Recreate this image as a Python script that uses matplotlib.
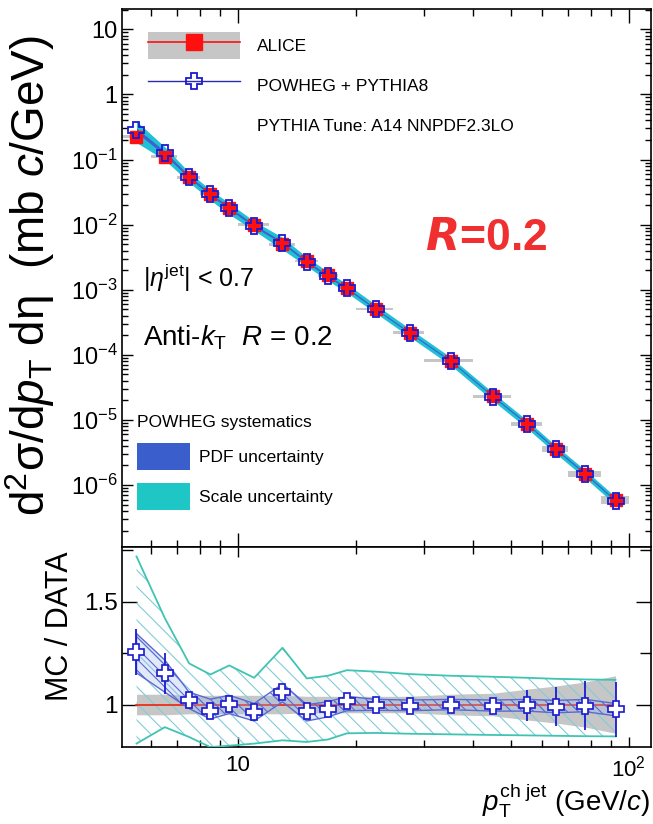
import numpy as np
import matplotlib
matplotlib.use('Agg')
import matplotlib.pyplot as plt
from matplotlib.patches import Patch
from matplotlib.lines import Line2D
from matplotlib.ticker import FixedLocator, LogLocator, MultipleLocator, NullFormatter, FuncFormatter

plt.rcParams['font.family'] = ['Liberation Sans', 'DejaVu Sans']
plt.rcParams['mathtext.fontset'] = 'custom'
plt.rcParams['mathtext.rm'] = 'Liberation Sans'
plt.rcParams['mathtext.it'] = 'Liberation Sans:italic'
plt.rcParams['mathtext.bf'] = 'Liberation Sans:bold'
plt.rcParams['hatch.linewidth'] = 0.8

# bins in pT (GeV/c)
pt_lo = np.array([5, 6, 7, 8, 9, 10, 12, 14, 16, 18, 20, 25, 30, 40, 50, 60, 70, 85])
pt_hi = np.array([6, 7, 8, 9, 10, 12, 14, 16, 18, 20, 25, 30, 40, 50, 60, 70, 85, 100])
pt = np.array([5.5, 6.5, 7.5, 8.5, 9.5, 11, 13, 15, 17, 19, 22.5, 27.5, 35, 45, 55, 65, 77.5, 92.5])

# ALICE cross section (mb c/GeV) and relative systematic uncertainty
alice_y = np.array([0.225, 0.11, 0.053, 0.030, 0.018, 0.010, 5.0e-3, 2.8e-3, 1.66e-3, 1.05e-3,
                    5.1e-4, 2.2e-4, 8.1e-5, 2.3e-5, 8.7e-6, 3.6e-6, 1.5e-6, 5.9e-7])
alice_sys = np.array([0.05, 0.05, 0.045, 0.045, 0.045, 0.045, 0.045, 0.04, 0.04, 0.04,
                      0.04, 0.04, 0.05, 0.055, 0.075, 0.09, 0.11, 0.14])

# POWHEG / DATA
ratio = np.array([1.256, 1.151, 1.021, 0.969, 1.005, 0.964, 1.061, 0.969, 0.976, 1.016,
                  0.997, 0.995, 1.0, 0.995, 0.997, 0.99, 0.995, 0.976])
mc_stat = np.array([0.11, 0.10, 0.02, 0.02, 0.02, 0.02, 0.02, 0.015, 0.015, 0.015,
                    0.015, 0.015, 0.02, 0.035, 0.075, 0.095, 0.12, 0.135])
pdf_hi = np.array([1.345, 1.216, 1.06, 1.026, 1.045, 1.005, 1.10, 1.0, 1.013, 1.04,
                   1.025, 1.022, 1.025, 1.022, 1.025, 1.02, 1.025, 1.005])
pdf_lo = np.array([1.154, 1.06, 0.98, 0.93, 0.956, 0.92, 1.013, 0.92, 0.94, 0.97,
                   0.972, 0.97, 0.975, 0.968, 0.968, 0.96, 0.965, 0.945])
scale_hi = np.array([1.72, 1.42, 1.20, 1.146, 1.19, 1.13, 1.276, 1.127, 1.14, 1.167,
                     1.16, 1.148, 1.14, 1.135, 1.13, 1.125, 1.122, 1.12])
scale_lo = np.array([0.81, 0.89, 0.842, 0.793, 0.80, 0.81, 0.826, 0.818, 0.83, 0.86,
                     0.862, 0.858, 0.855, 0.852, 0.85, 0.848, 0.846, 0.845])

W, H = 653, 824
fig = plt.figure(figsize=(W / 100, H / 100), dpi=100)
ax = fig.add_axes([122 / W, 1 - 547 / H, 529 / W, 538 / H])
axr = fig.add_axes([122 / W, 1 - 747 / H, 529 / W, 200 / H])

gray = '#c6c6c6'
blue_mk = '#1a1ad0'

# ---- main panel
ax.set_xscale('log')
ax.set_yscale('log')
ax.bar(pt_lo, 2 * alice_sys * alice_y, width=pt_hi - pt_lo, bottom=alice_y * (1 - alice_sys),
       align='edge', color=gray, lw=0, zorder=1)
ax.fill_between(pt, alice_y * scale_lo, alice_y * scale_hi, color='#22c0d6', lw=0, zorder=2)
ax.fill_between(pt, alice_y * pdf_lo, alice_y * pdf_hi, color='#3a64cc', lw=0, zorder=3)
ax.plot(pt, alice_y, 's', color='#ff1010', ms=9, zorder=4)
ax.plot(pt, alice_y * ratio, 'P', mfc='none', mec=blue_mk, ms=12, mew=1.3, zorder=5)

ax.set_xlim(5.05, 114)
ax.set_ylim(1.12e-7, 20.5)

# ---- ratio panel
axr.set_xscale('log')
axr.fill_between(pt, 1 - alice_sys, 1 + alice_sys, color=gray, lw=0, zorder=1)
axr.fill_between(pt, scale_lo, scale_hi, facecolor='none', edgecolor='#80ccd8',
                 hatch='\\\\', lw=0, zorder=2)
axr.plot(pt, scale_hi, color='#3fc4b4', lw=1.3, zorder=3)
axr.plot(pt, scale_lo, color='#3fc4b4', lw=1.3, zorder=3)
axr.plot(pt, alice_y / alice_y, color='#e8301c', lw=1.3, zorder=3)
axr.fill_between(pt, pdf_lo, pdf_hi, facecolor=(0.62, 0.72, 0.95, 0.3), edgecolor='#5a6ad0',
                 hatch='\\\\\\', lw=1.0, zorder=4)
axr.errorbar(pt, ratio, yerr=mc_stat, fmt='P', mfc='white', mec=blue_mk, ms=12, mew=1.2,
             ecolor=blue_mk, elinewidth=1.3, capsize=0, zorder=5)
axr.set_xlim(5.05, 114)
axr.set_ylim(0.7935, 1.766)

# ---- ticks
for a in (ax, axr):
    a.tick_params(which='both', direction='in', top=True, right=True, width=1.0)
    for s in a.spines.values():
        s.set_linewidth(1.2)
    a.xaxis.set_major_locator(FixedLocator([10, 100]))
    a.xaxis.set_minor_locator(LogLocator(base=10, subs=np.arange(2, 10), numticks=20))
    a.xaxis.set_minor_formatter(NullFormatter())

ax.xaxis.set_major_formatter(NullFormatter())
ax.tick_params(axis='x', which='major', length=10)
ax.tick_params(axis='x', which='minor', length=5)
ax.tick_params(axis='y', which='major', length=8, labelsize=17, pad=3)
ax.tick_params(axis='y', which='minor', length=4)
ax.yaxis.set_major_locator(FixedLocator([1e-6, 1e-5, 1e-4, 1e-3, 1e-2, 1e-1, 1, 10]))
ax.yaxis.set_minor_locator(LogLocator(base=10, subs=np.arange(2, 10), numticks=30))
ax.yaxis.set_minor_formatter(NullFormatter())
ax.yaxis.set_major_formatter(FuncFormatter(
    lambda v, p: {1: '1', 10: '10'}.get(round(v, 6), r'$10^{%d}$' % round(np.log10(v)))))

axr.xaxis.set_major_formatter(FuncFormatter(lambda v, p: '10' if v < 50 else r'$10^2$'))
axr.tick_params(axis='x', which='major', length=7, labelsize=16, pad=6)
axr.tick_params(axis='x', which='minor', length=5)
axr.tick_params(axis='y', which='major', length=11, labelsize=17.5, pad=3)
axr.tick_params(axis='y', which='minor', length=8)
axr.yaxis.set_major_locator(MultipleLocator(0.5))
axr.yaxis.set_minor_locator(MultipleLocator(0.25))
axr.yaxis.set_major_formatter(FuncFormatter(lambda v, p: f'{v:g}'))

# ---- labels
fig.text(30 / W, 1 - 276 / H, r'$\mathrm{d}^2$σ/d$p_{\rm T}$ dη  (mb $c$/GeV)',
         rotation=90, ha='center', va='center', fontsize=33)
fig.text(60 / W, 1 - 626 / H, 'MC / DATA', rotation=90, ha='center', va='center', fontsize=22)
fig.text(650 / W, 1 - 811 / H, r'$p_{\rm T}^{\rm ch\ jet}$ (GeV/$c$)', ha='right',
         va='baseline', fontsize=20)

# ---- legends
h_alice = (Patch(facecolor=gray, edgecolor='none'),
           Line2D([], [], color='#ff1010', marker='s', ms=11, lw=1.2))
h_powheg = Line2D([], [], color='#2a2ab0', lw=1.0, marker='P', mfc='none', mec=blue_mk, ms=12, mew=1.3)
h_tune = Line2D([], [], color='none')
leg1 = ax.legend([h_alice, h_powheg, h_tune],
                 ['ALICE', 'POWHEG + PYTHIA8', 'PYTHIA Tune: A14 NNPDF2.3LO'],
                 loc='upper left', bbox_to_anchor=(0.049, 0.957), frameon=False,
                 fontsize=12.5, handlelength=5.3, handleheight=2.0, handletextpad=1.0,
                 labelspacing=0.75, borderpad=0, borderaxespad=0)
ax.add_artist(leg1)
ax.legend([Patch(facecolor='#3a5fcd'), Patch(facecolor='#1fc6c6')],
          ['PDF uncertainty', 'Scale uncertainty'], title='POWHEG systematics',
          title_fontsize=12.5, alignment='left', loc='upper left',
          bbox_to_anchor=(0.028, 0.245), frameon=False, fontsize=12.5,
          handlelength=3.05, handleheight=2.0, handletextpad=0.55, labelspacing=0.75,
          borderpad=0, borderaxespad=0)

ax.text(0.04, 0.483, r'$|\eta^{\rm jet}|$ < 0.7', transform=ax.transAxes, fontsize=18, va='baseline')
ax.text(0.04, 0.375, r'Anti-$k_{\rm T}$  $R$ = 0.2', transform=ax.transAxes, fontsize=20, va='baseline')
ax.text(0.573, 0.552, r'$\mathbfit{R}$=0.2', transform=ax.transAxes, fontsize=32,
        color='#f03030', fontweight='bold', va='baseline')

fig.savefig('out.png', dpi=100)
